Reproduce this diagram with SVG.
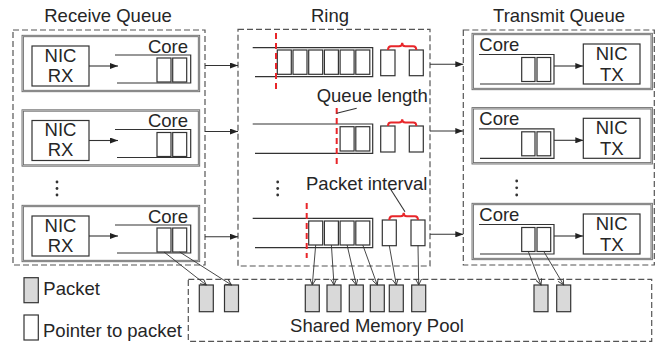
<svg xmlns="http://www.w3.org/2000/svg" width="656" height="343" viewBox="0 0 656 343">
<style>
text{font-family:"Liberation Sans",Arial,sans-serif;font-size:18.5px;fill:#262626}
.dash{fill:none;stroke:#555;stroke-width:1.2;stroke-dasharray:6,3}
.nodeo{fill:none;stroke:#6a6a6a;stroke-width:2.3}
.nodei{fill:none;stroke:#d8d8d8;stroke-width:0.6}
.box{fill:#fff;stroke:#333;stroke-width:1.2}
.q{fill:none;stroke:#333;stroke-width:1.2}
.cell{fill:#fff;stroke:#333;stroke-width:1.2}
.pkt{fill:#d9d9d9;stroke:#333;stroke-width:1.2}
.red{fill:none;stroke:#e8262a;stroke-width:2;stroke-dasharray:6,4}
.brace{fill:none;stroke:#e8262a;stroke-width:2}
.ln{fill:none;stroke:#333;stroke-width:1.1}
.arr{fill:none;stroke:#333;stroke-width:1.1;marker-end:url(#ah)}
.parr{fill:none;stroke:#333;stroke-width:0.9;marker-end:url(#ao)}
.dot{fill:#333}
</style>
<defs>
<marker id="ah" markerUnits="userSpaceOnUse" markerWidth="8" markerHeight="6" refX="8" refY="3" orient="auto"><path d="M0,0 L8,3 L0,6 z" fill="#222"/></marker>
<marker id="ao" markerUnits="userSpaceOnUse" markerWidth="7" markerHeight="7" refX="6" refY="3.5" orient="auto"><path d="M0,0.5 L6,3.5 L0,6.5" fill="none" stroke="#333" stroke-width="0.9"/></marker>
<g id="rxnode">
<rect class="nodeo" x="22.7" y="36" width="176.3" height="55"/>
<rect class="nodei" x="22.7" y="36" width="176.3" height="55"/>
<rect class="box" x="32" y="46" width="57" height="40"/>
<text x="60.5" y="61.7" text-anchor="middle">NIC</text>
<text x="60.5" y="81.7" text-anchor="middle">RX</text>
<line class="arr" x1="89" y1="66" x2="118" y2="66"/>
<path class="q" d="M115,55 H190.7 V83 H117"/>
<rect class="cell" x="157" y="58" width="14" height="24"/>
<rect class="cell" x="172.7" y="58" width="14" height="24"/>
<text x="188" y="52.7" text-anchor="end">Core</text>
</g>
<g id="txnode">
<rect class="nodeo" x="472.7" y="34" width="179" height="55"/>
<rect class="nodei" x="472.7" y="34" width="179" height="55"/>
<text x="479.3" y="50.5">Core</text>
<path class="q" d="M479,54.5 H554 V84 H480"/>
<rect class="cell" x="521.7" y="57.5" width="13.3" height="24"/>
<rect class="cell" x="537" y="57.5" width="13.7" height="24"/>
<line class="arr" x1="554" y1="66" x2="583.3" y2="66"/>
<rect class="box" x="583.3" y="44" width="56.7" height="40"/>
<text x="611.7" y="59.7" text-anchor="middle">NIC</text>
<text x="611.7" y="80.5" text-anchor="middle">TX</text>
</g>
</defs>

<g id="receive-queue">
<text x="108" y="21.7" text-anchor="middle">Receive Queue</text>
<rect class="dash" x="13" y="30" width="192" height="235"/>
<circle class="dot" cx="57" cy="182" r="1.4"/><circle class="dot" cx="57" cy="188.5" r="1.4"/><circle class="dot" cx="57" cy="195" r="1.4"/>
</g>
<g id="rx1"><use href="#rxnode"/></g>
<g id="rx2"><use href="#rxnode" transform="translate(0,74.5)"/></g>
<g id="rx3"><use href="#rxnode" transform="translate(0,170)"/></g>

<g id="ring">
<text x="330" y="21.7" text-anchor="middle">Ring</text>
<rect class="dash" x="238" y="29.3" width="192" height="236.7"/>
<circle class="dot" cx="277.7" cy="182" r="1.4"/><circle class="dot" cx="277.7" cy="188.5" r="1.4"/><circle class="dot" cx="277.7" cy="195" r="1.4"/>
</g>
<g id="ring-row1">
<path class="q" d="M252.7,47.7 H372.7 V76.7 H255"/>
<rect class="cell" x="277.3" y="50" width="14" height="24.3"/>
<rect class="cell" x="293" y="50" width="14" height="24.3"/>
<rect class="cell" x="308.7" y="50" width="14" height="24.3"/>
<rect class="cell" x="324.4" y="50" width="14" height="24.3"/>
<rect class="cell" x="340.1" y="50" width="14" height="24.3"/>
<rect class="cell" x="355.8" y="50" width="14" height="24.3"/>
<rect class="cell" x="380.7" y="50" width="14.3" height="25.7"/>
<rect class="cell" x="409.3" y="50" width="14" height="25.7"/>
<line class="red" x1="276" y1="33" x2="276" y2="91"/>
<path class="brace" d="M388,50 Q388,46.3 391,46.3 H399 Q402.2,46.3 402.2,42.7 Q402.2,46.3 405.4,46.3 H413.3 Q416.3,46.3 416.3,50"/>
</g>
<g id="ring-row2">
<path class="q" d="M252.7,124 H372.7 V153.3 H255"/>
<rect class="cell" x="340.1" y="126.7" width="14" height="24.3"/>
<rect class="cell" x="355.8" y="126.7" width="14" height="24.3"/>
<rect class="cell" x="380.7" y="126" width="14.3" height="26"/>
<rect class="cell" x="409.3" y="126" width="14" height="26"/>
<line class="red" x1="336.7" y1="108" x2="336.7" y2="166"/>
<path class="brace" d="M388,126 Q388,122.6 391,122.6 H399 Q402.2,122.6 402.2,119.3 Q402.2,122.6 405.4,122.6 H413.3 Q416.3,122.6 416.3,126"/>
<text x="316.7" y="101.7">Queue length</text>
<line class="ln" x1="336.7" y1="113.3" x2="356.7" y2="108.3"/>
</g>
<g id="ring-row3">
<path class="q" d="M252.7,218.3 H372.7 V247.7 H255"/>
<rect class="cell" x="308.7" y="221" width="14" height="24"/>
<rect class="cell" x="324.4" y="221" width="14" height="24"/>
<rect class="cell" x="340.1" y="221" width="14" height="24"/>
<rect class="cell" x="355.8" y="221" width="14" height="24"/>
<rect class="cell" x="382.3" y="220" width="14" height="25.7"/>
<rect class="cell" x="411" y="220" width="14" height="25.7"/>
<line class="red" x1="306.7" y1="203" x2="306.7" y2="258"/>
<path class="brace" d="M389.3,220 Q389.3,216.3 392.3,216.3 H400.6 Q403.7,216.3 403.7,212.7 Q403.7,216.3 406.8,216.3 H415 Q418,216.3 418,220"/>
<text x="306" y="190">Packet interval</text>
<line class="ln" x1="390" y1="188.3" x2="405" y2="211.7"/>
</g>

<g id="transmit-queue">
<text x="559" y="21.7" text-anchor="middle">Transmit Queue</text>
<rect class="dash" x="463.3" y="30" width="191" height="235"/>
<circle class="dot" cx="516.7" cy="181" r="1.4"/><circle class="dot" cx="516.7" cy="187.8" r="1.4"/><circle class="dot" cx="516.7" cy="195" r="1.4"/>
</g>
<g id="tx1"><use href="#txnode"/></g>
<g id="tx2"><use href="#txnode" transform="translate(0,74.3)"/></g>
<g id="tx3"><use href="#txnode" transform="translate(0,170)"/></g>

<g id="pool">
<rect class="dash" x="188.3" y="279.3" width="463.4" height="62"/>
<rect class="pkt" x="199.3" y="285" width="14" height="26.7"/>
<rect class="pkt" x="224.5" y="285" width="14" height="26.7"/>
<rect class="pkt" x="305.3" y="285" width="14" height="26.7"/>
<rect class="pkt" x="327" y="285" width="14" height="26.7"/>
<rect class="pkt" x="349.3" y="285" width="14" height="26.7"/>
<rect class="pkt" x="370.3" y="285" width="14" height="26.7"/>
<rect class="pkt" x="389.3" y="285" width="14" height="26.7"/>
<rect class="pkt" x="411.7" y="285" width="14" height="26.7"/>
<rect class="pkt" x="534" y="285" width="14" height="26.7"/>
<rect class="pkt" x="556.7" y="285" width="14" height="26.7"/>
<text x="377" y="331.7" text-anchor="middle">Shared Memory Pool</text>
</g>

<g id="legend">
<rect class="pkt" x="24" y="277.7" width="14.3" height="25"/>
<text x="43.3" y="295">Packet</text>
<rect class="cell" x="24" y="315" width="14.3" height="25"/>
<text x="43" y="336.7">Pointer to packet</text>
</g>

<g id="connectors">
<line class="arr" x1="205" y1="65.5" x2="238" y2="65.5"/>
<line class="arr" x1="205" y1="131.5" x2="238" y2="131.5"/>
<line class="arr" x1="205" y1="236.7" x2="238" y2="236.7"/>
<line class="arr" x1="430" y1="64.3" x2="463.3" y2="64.3"/>
<line class="arr" x1="430" y1="131" x2="463.3" y2="131"/>
<line class="arr" x1="430" y1="234.3" x2="463.3" y2="234.3"/>
<line class="parr" x1="164" y1="252" x2="206.3" y2="285"/>
<line class="parr" x1="179.7" y1="252" x2="231.5" y2="285"/>
<line class="parr" x1="315.7" y1="245" x2="312.3" y2="285"/>
<line class="parr" x1="331.4" y1="245" x2="334" y2="285"/>
<line class="parr" x1="347.1" y1="245" x2="356.3" y2="285"/>
<line class="parr" x1="362.8" y1="245" x2="377.3" y2="285"/>
<line class="parr" x1="389.3" y1="245.7" x2="396.3" y2="285"/>
<line class="parr" x1="418" y1="245.7" x2="418.7" y2="285"/>
<line class="parr" x1="528.3" y1="251.5" x2="541" y2="285"/>
<line class="parr" x1="543.8" y1="251.5" x2="563.7" y2="285"/>
</g>
</svg>
